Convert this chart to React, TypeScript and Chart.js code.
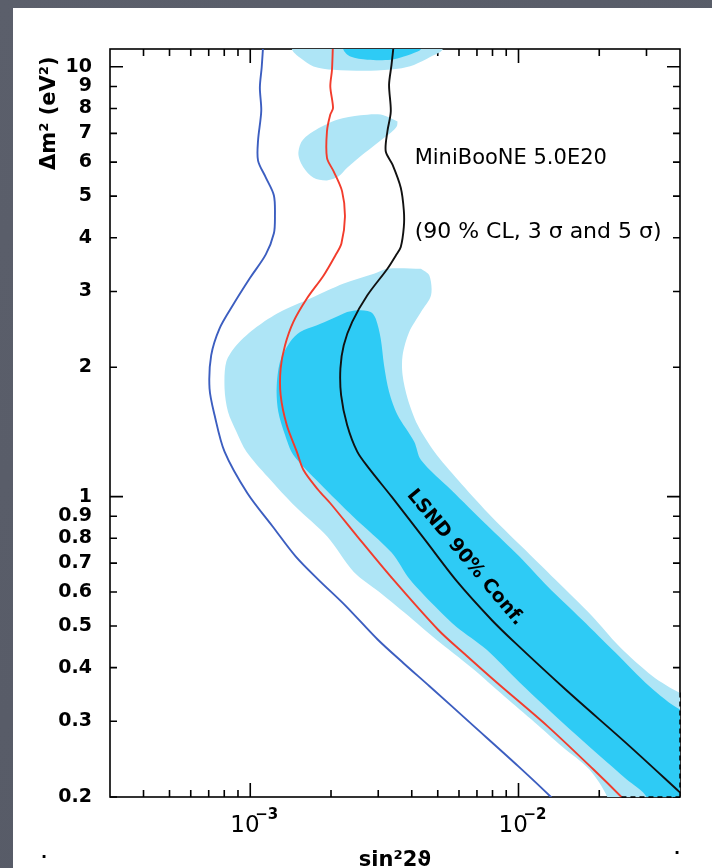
import React, { useEffect, useRef } from 'react';
import { Chart, registerables } from 'chart.js';

Chart.register(...registerables);

// ---------- axis ranges & ticks ----------
const X_MIN = 3e-4;
const X_MAX = 4e-2;
const Y_MIN = 0.2;
const Y_MAX = 11;

const yTickValues = [0.2, 0.3, 0.4, 0.5, 0.6, 0.7, 0.8, 0.9, 1, 2, 3, 4, 5, 6, 7, 8, 9, 10];
const yTickLabels = ['0.2', '0.3', '0.4', '0.5', '0.6', '0.7', '0.8', '0.9', '1', '2', '3', '4', '5', '6', '7', '8', '9', '10'];
const yMajorTicks = [1, 10];
const xMajorTicks = [1e-3, 1e-2];
const xTickBase = ['10', '10'];
const xTickExp = ['−3', '−2'];
const xMinorTicks = [4e-4, 5e-4, 6e-4, 7e-4, 8e-4, 9e-4, 2e-3, 3e-3, 4e-3, 5e-3, 6e-3, 7e-3, 8e-3, 9e-3, 2e-2, 3e-2];

// ---------- MiniBooNE exclusion curves [sin^2 2θ, Δm^2] ----------
const blue90CL: [number, number][] = [
  [1.12e-3, 11.5], [1.103e-3, 9.96], [1.086e-3, 8.95], [1.099e-3, 7.9], [1.069e-3, 6.73], [1.069e-3, 6.05],
  [1.142e-3, 5.53], [1.225e-3, 5.02], [1.236e-3, 4.47], [1.225e-3, 4.1], [1.143e-3, 3.66], [9.96e-4, 3.22],
  [8.62e-4, 2.79], [7.68e-4, 2.46], [7.15e-4, 2.13], [7.05e-4, 1.785], [7.36e-4, 1.548], [8.02e-4, 1.272],
  [9.76e-4, 1.018], [1.212e-3, 0.852], [1.476e-3, 0.726], [1.793e-3, 0.641], [2.263e-3, 0.5577], [2.985e-3, 0.465],
  [3.737e-3, 0.409], [4.66e-3, 0.362], [6.815e-3, 0.2924], [9.97e-3, 0.236], [1.321e-2, 0.2], [1.36e-2, 0.195],
];

const red3Sigma: [number, number][] = [
  [2.035e-3, 11.5], [2.017e-3, 9.84], [1.988e-3, 9.0], [2.035e-3, 8.02], [1.988e-3, 7.74], [1.932e-3, 7.08],
  [1.932e-3, 6.14], [2.046e-3, 5.71], [2.2e-3, 5.13], [2.254e-3, 4.47], [2.187e-3, 3.88], [2.076e-3, 3.64],
  [1.877e-3, 3.27], [1.626e-3, 2.89], [1.448e-3, 2.55], [1.348e-3, 2.25], [1.298e-3, 1.987], [1.298e-3, 1.722],
  [1.368e-3, 1.467], [1.491e-3, 1.272], [1.579e-3, 1.153], [1.793e-3, 1.036], [1.988e-3, 0.965], [2.505e-3, 0.808],
  [3.341e-3, 0.651], [5.015e-3, 0.49], [6.39e-3, 0.4268], [8.318e-3, 0.3688], [1.282e-2, 0.2924], [1.9e-2, 0.232],
  [2.419e-2, 0.2], [2.48e-2, 0.196],
];

const black5Sigma: [number, number][] = [
  [3.438e-3, 11.5], [3.362e-3, 10.1], [3.292e-3, 9.08], [3.341e-3, 7.87], [3.246e-3, 7.08], [3.199e-3, 6.36],
  [3.391e-3, 5.92], [3.64e-3, 5.23], [3.737e-3, 4.63], [3.737e-3, 4.24], [3.64e-3, 3.81], [3.489e-3, 3.64],
  [3.246e-3, 3.39], [2.732e-3, 2.94], [2.399e-3, 2.55], [2.231e-3, 2.25], [2.168e-3, 1.987], [2.181e-3, 1.722],
  [2.297e-3, 1.467], [2.505e-3, 1.272], [2.762e-3, 1.166], [3.37e-3, 0.998], [4.483e-3, 0.793], [5.91e-3, 0.634],
  [7.93e-3, 0.517], [9.72e-3, 0.4566], [1.498e-2, 0.3557], [2.593e-2, 0.2627], [3.995e-2, 0.2051],
];

// ---------- LSND allowed regions (closed outlines) ----------
const lsnd99Top: [number, number][] = [
  [1.4e-3, 12.5], [1.428e-3, 11], [1.534e-3, 10.49], [1.721e-3, 10.02], [2.04e-3, 9.84], [2.81e-3, 9.79],
  [3.549e-3, 9.89], [4.076e-3, 10.1], [4.72e-3, 10.56], [5.224e-3, 11], [5.3e-3, 12.5],
];

const lsnd90Top: [number, number][] = [
  [2.2e-3, 12.5], [2.219e-3, 11], [2.363e-3, 10.56], [2.732e-3, 10.38], [3.341e-3, 10.38], [3.737e-3, 10.56],
  [4.208e-3, 10.85], [4.33e-3, 11], [4.35e-3, 12.5],
];

const lsnd99Mid: [number, number][] = [
  [3.54e-3, 7.46], [3.064e-3, 7.74], [2.577e-3, 7.71], [2.107e-3, 7.53], [1.721e-3, 7.08], [1.557e-3, 6.71],
  [1.512e-3, 6.25], [1.579e-3, 5.83], [1.721e-3, 5.52], [1.932e-3, 5.44], [2.136e-3, 5.56], [2.297e-3, 5.82],
  [2.577e-3, 6.19], [2.978e-3, 6.65], [3.341e-3, 7.02], [3.519e-3, 7.27], [3.54e-3, 7.46],
];

const lsnd99Main: [number, number][] = [
  [4.33e-3, 3.39], [4.653e-3, 3.27], [4.72e-3, 2.94], [4.33e-3, 2.69], [3.913e-3, 2.416], [3.697e-3, 2.13],
  [3.697e-3, 1.917], [3.859e-3, 1.692], [4.208e-3, 1.467], [4.857e-3, 1.272], [5.95e-3, 1.093], [7.71e-3, 0.915],
  [1.028e-2, 0.765], [1.371e-2, 0.641], [1.883e-2, 0.5265], [2.372e-2, 0.4484], [3.163e-2, 0.382], [3.985e-2, 0.3497],
  [5e-2, 0.33], [5e-2, 0.18], [2.2e-2, 0.18],
  [2.144e-2, 0.2], [1.835e-2, 0.232], [1.453e-2, 0.2623], [1.15e-2, 0.2983], [8.87e-3, 0.3427], [6.67e-3, 0.4002],
  [4.93e-3, 0.465], [4.04e-3, 0.517], [3.011e-3, 0.601], [2.427e-3, 0.6685], [1.94e-3, 0.806], [1.476e-3, 0.9465],
  [1.163e-3, 1.111], [9.68e-4, 1.272], [8.88e-4, 1.416], [8.26e-4, 1.575], [8.02e-4, 1.785], [8.14e-4, 2.058],
  [8.88e-4, 2.25], [1.055e-3, 2.481], [1.291e-3, 2.69], [1.673e-3, 2.89], [2.231e-3, 3.13], [2.891e-3, 3.3],
  [3.246e-3, 3.39], [4.33e-3, 3.39],
];

const lsnd90Main: [number, number][] = [
  [2.297e-3, 2.69], [2.505e-3, 2.714], [2.81e-3, 2.69], [2.935e-3, 2.596], [3.064e-3, 2.332], [3.153e-3, 2.022],
  [3.292e-3, 1.753], [3.54e-3, 1.548], [4.086e-3, 1.342], [4.33e-3, 1.217], [5.613e-3, 1.036], [7.6e-3, 0.86],
  [1.01e-2, 0.7244], [1.287e-2, 0.617], [1.727e-2, 0.517], [2.297e-2, 0.4336], [3.083e-2, 0.3615], [4.0e-2, 0.3198],
  [5e-2, 0.31], [5e-2, 0.18], [2.95e-2, 0.18],
  [3.003e-2, 0.2], [2.526e-2, 0.22], [1.557e-2, 0.2872], [1.01e-2, 0.3693], [7.596e-3, 0.4405], [5.86e-3, 0.498],
  [5.015e-3, 0.5458], [3.937e-3, 0.641], [3.37e-3, 0.74], [2.427e-3, 0.897], [1.808e-3, 1.076], [1.448e-3, 1.25],
  [1.348e-3, 1.391], [1.272e-3, 1.575], [1.254e-3, 1.785], [1.291e-3, 2.058], [1.407e-3, 2.29], [1.534e-3, 2.416],
  [1.773e-3, 2.504], [2.297e-3, 2.69],
];

// ---------- annotation anchors (data coordinates) ----------
const labelMiniBooNE = { text: 'MiniBooNE 5.0E20', x: 4.1e-3, y: 5.95 };
const labelCL = { text: '(90 % CL, 3 σ and 5 σ)', x: 4.1e-3, y: 3.99 };
const labelLSND = { text: 'LSND 90% Conf.', x: 6.33e-3, y: 0.721, angle: 50 };
const xTitle = 'sin²2ϑ';
const yTitle = 'Δm² (eV²)';

const LIGHT = '#aee5f6';
const DARK = '#2ecbf5';
const FONT = '"DejaVu Sans", "Liberation Sans", sans-serif';

const toPts = (arr: [number, number][]) => arr.map(([x, y]) => ({ x, y }));

const overlayPlugin = {
  id: 'overlayPlugin',
  beforeDraw(chart: any) {
    const { ctx, width, height } = chart;
    ctx.save();
    const g = ctx.createLinearGradient(0, 0, width, height);
    g.addColorStop(0, '#5b5f6b');
    g.addColorStop(1, '#555965');
    ctx.fillStyle = g;
    ctx.fillRect(0, 0, width, height);
    ctx.fillStyle = '#ffffff';
    ctx.fillRect(13, 8, width - 13, height - 8);
    ctx.restore();
  },
  beforeDatasetsDraw(chart: any) {
    const { ctx, chartArea } = chart;
    const { left, right, top, bottom } = chartArea;
    const xs = chart.scales.x;
    const ys = chart.scales.y;
    ctx.save();
    ctx.strokeStyle = '#000';
    ctx.lineWidth = 1.6;
    ctx.strokeRect(left, top, right - left, bottom - top);
    ctx.beginPath();
    xMinorTicks.forEach((v) => {
      const px = xs.getPixelForValue(v);
      ctx.moveTo(px, bottom); ctx.lineTo(px, bottom - 7);
      ctx.moveTo(px, top); ctx.lineTo(px, top + 7);
    });
    xMajorTicks.forEach((v) => {
      const px = xs.getPixelForValue(v);
      ctx.moveTo(px, bottom); ctx.lineTo(px, bottom - 14);
      ctx.moveTo(px, top); ctx.lineTo(px, top + 14);
    });
    yTickValues.forEach((v) => {
      const py = ys.getPixelForValue(v);
      const len = yMajorTicks.includes(v) ? 13 : 7;
      ctx.moveTo(left, py); ctx.lineTo(left + len, py);
      ctx.moveTo(right, py); ctx.lineTo(right - len, py);
    });
    ctx.stroke();
    ctx.restore();
  },
  afterDatasetsDraw(chart: any) {
    const { ctx, chartArea } = chart;
    const { left, right, top, bottom } = chartArea;
    const xs = chart.scales.x;
    const ys = chart.scales.y;
    ctx.save();
    // dashed frame where LSND region covers the border
    ctx.strokeStyle = '#000';
    ctx.lineWidth = 1.5;
    ctx.setLineDash([5, 4]);
    ctx.beginPath();
    ctx.moveTo(xs.getPixelForValue(2.42e-2), bottom);
    ctx.lineTo(right, bottom);
    ctx.moveTo(right, ys.getPixelForValue(0.35));
    ctx.lineTo(right, bottom);
    ctx.stroke();
    ctx.setLineDash([]);

    ctx.fillStyle = '#000';
    // x tick labels 10^n
    ctx.textAlign = 'left';
    ctx.textBaseline = 'alphabetic';
    xMajorTicks.forEach((v, i) => {
      const px = xs.getPixelForValue(v);
      ctx.font = `23px ${FONT}`;
      ctx.fillText(xTickBase[i], px - 20, bottom + 35);
      ctx.font = `bold 15px ${FONT}`;
      ctx.fillText(xTickExp[i], px + 5, bottom + 22);
    });
    // x title
    ctx.font = `bold 21px ${FONT}`;
    ctx.textAlign = 'center';
    ctx.fillText(xTitle, (left + right) / 2, bottom + 69);
    // y title
    ctx.save();
    ctx.translate(55, top + 121);
    ctx.rotate(-Math.PI / 2);
    ctx.textAlign = 'left';
    ctx.font = `bold 21px ${FONT}`;
    ctx.fillText(yTitle, 0, 0);
    ctx.restore();
    // annotations
    ctx.textAlign = 'left';
    ctx.font = `21px ${FONT}`;
    ctx.fillText(labelMiniBooNE.text, xs.getPixelForValue(labelMiniBooNE.x), ys.getPixelForValue(labelMiniBooNE.y));
    ctx.font = `22px ${FONT}`;
    ctx.fillText(labelCL.text, xs.getPixelForValue(labelCL.x), ys.getPixelForValue(labelCL.y));
    ctx.save();
    ctx.translate(xs.getPixelForValue(labelLSND.x), ys.getPixelForValue(labelLSND.y));
    ctx.rotate((labelLSND.angle * Math.PI) / 180);
    ctx.textAlign = 'center';
    ctx.textBaseline = 'middle';
    ctx.font = `bold 19px ${FONT}`;
    ctx.fillText(labelLSND.text, 0, 0);
    ctx.restore();
    // stray slide marks
    ctx.font = `bold 16px ${FONT}`;
    ctx.textAlign = 'center';
    ctx.fillText('.', 44, 858);
    ctx.fillText('.', 677, 854);
    ctx.restore();
  },
};

export default function App() {
  const canvasRef = useRef<HTMLCanvasElement | null>(null);

  useEffect(() => {
    document.body.style.margin = '0';
    document.body.style.overflow = 'hidden';
    const canvas = canvasRef.current;
    if (!canvas) return;

    const lineDs = (label: string, pts: [number, number][], color: string) => ({
      label,
      data: toPts(pts),
      borderColor: color,
      borderWidth: 1.9,
      pointRadius: 0,
      fill: false,
      tension: 0.3,
      order: 0,
    });
    const areaDs = (label: string, pts: [number, number][], color: string, order: number) => ({
      label,
      data: toPts(pts),
      borderWidth: 0,
      borderColor: color,
      backgroundColor: color,
      pointRadius: 0,
      fill: 'shape',
      tension: 0.3,
      order,
    });

    const chart = new Chart(canvas, {
      type: 'line',
      data: {
        datasets: [
          lineDs('MiniBooNE 90% CL', blue90CL, '#3c5ec0'),
          lineDs('MiniBooNE 3σ', red3Sigma, '#f23c2c'),
          lineDs('MiniBooNE 5σ', black5Sigma, '#111111'),
          areaDs('LSND 90% top', lsnd90Top, DARK, 1),
          areaDs('LSND 90% main', lsnd90Main, DARK, 1),
          areaDs('LSND 99% top', lsnd99Top, LIGHT, 2),
          areaDs('LSND 99% mid', lsnd99Mid, LIGHT, 2),
          areaDs('LSND 99% main', lsnd99Main, LIGHT, 2),
        ] as any,
      },
      options: {
        animation: false,
        responsive: false,
        layout: { padding: { top: 49, right: 32, left: 0, bottom: 0 } },
        plugins: { legend: { display: false }, tooltip: { enabled: false }, title: { display: false } },
        scales: {
          x: {
            type: 'logarithmic',
            min: X_MIN,
            max: X_MAX,
            grid: { display: false, drawTicks: false },
            border: { display: false },
            ticks: { display: false },
            afterFit: (s: any) => { s.height = 71; },
          },
          y: {
            type: 'logarithmic',
            min: Y_MIN,
            max: Y_MAX,
            grid: { display: false, drawTicks: false },
            border: { display: false },
            afterBuildTicks: (s: any) => { s.ticks = yTickValues.map((v) => ({ value: v })); },
            ticks: {
              autoSkip: false,
              padding: 18,
              color: '#000',
              font: { family: FONT, size: 19, weight: 'bold' },
              callback: (_v: any, i: number) => yTickLabels[i],
            },
            afterFit: (s: any) => { s.width = 110; },
          },
        },
      } as any,
      plugins: [overlayPlugin],
    });

    return () => chart.destroy();
  }, []);

  return (
    <div style={{ position: 'absolute', left: 0, top: 0, width: 712, height: 868, overflow: 'hidden' }}>
      <canvas ref={canvasRef} width={712} height={868} style={{ display: 'block', width: 712, height: 868 }} />
    </div>
  );
}
